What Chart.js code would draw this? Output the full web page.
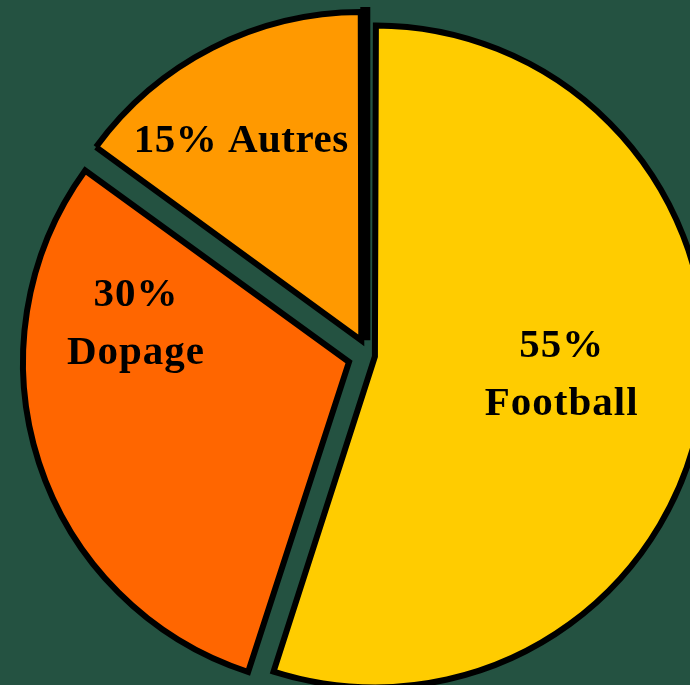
<!DOCTYPE html>
<html>
<head>
<meta charset="utf-8">
<script src="https://cdn.jsdelivr.net/npm/chart.js@4/dist/chart.umd.min.js"></script>
<style>
  html, body { margin: 0; padding: 0; background: #245241; overflow: hidden; }
  canvas { display: block; }
</style>
</head>
<body>
<canvas id="pieChart" width="690" height="685"></canvas>
<script>
const labels = ["Football", "Dopage", "Autres"];
const values = [55, 30, 15];
const total = values.reduce((a, b) => a + b, 0);

// thick black edge on the "Autres" slice, like the original drawing
const thickEdge = {
  id: "thickEdge",
  afterDatasetsDraw(chart) {
    const arc = chart.getDatasetMeta(0).data[2];
    const p = arc.getProps(["x", "y", "startAngle", "endAngle", "outerRadius", "circumference"], true);
    const mid = (p.startAngle + p.endAngle) / 2;
    const t = arc.options.offset / 4;
    const fix = 1 - Math.sin(Math.min(Math.PI, p.circumference));
    const vx = p.x + Math.cos(mid) * t;
    const vy = p.y + Math.sin(mid) * t;
    const len = p.outerRadius + t * fix + 5;
    const nx = Math.cos(p.endAngle + Math.PI / 2) * 4;
    const ny = Math.sin(p.endAngle + Math.PI / 2) * 4;
    const ctx = chart.ctx;
    ctx.save();
    ctx.strokeStyle = "#000";
    ctx.lineWidth = 10;
    ctx.beginPath();
    ctx.moveTo(vx + nx, vy + ny);
    ctx.lineTo(vx + nx + Math.cos(p.endAngle) * len, vy + ny + Math.sin(p.endAngle) * len);
    ctx.stroke();
    ctx.restore();
  }
};

const sliceLabels = {
  id: "sliceLabels",
  afterDatasetsDraw(chart, args, opts) {
    const ctx = chart.ctx;
    const arcs = chart.getDatasetMeta(0).data;
    ctx.save();
    ctx.fillStyle = "#000";
    ctx.font = "bold 41px 'Liberation Serif'";
    ctx.textAlign = "center";
    ctx.textBaseline = "alphabetic";
    arcs.forEach((arc, i) => {
      const p = arc.getProps(["x", "y", "startAngle", "endAngle", "outerRadius"], true);
      const a = (p.startAngle + p.endAngle) / 2 + opts.turn[i] * Math.PI / 180;
      const r = p.outerRadius * opts.reach[i];
      const cx = p.x + Math.cos(a) * r;
      const cy = p.y + Math.sin(a) * r;
      const pct = Math.round(values[i] / total * 100) + "%";
      const lines = opts.stack[i] ? [pct, labels[i]] : [pct + " " + labels[i]];
      ctx.letterSpacing = opts.stack[i] ? "1px" : "0.5px";
      lines.forEach((txt, j) => {
        ctx.fillText(txt, cx, cy + (j - (lines.length - 1) / 2) * 58 + 14);
      });
    });
    ctx.restore();
  }
};

new Chart(document.getElementById("pieChart"), {
  type: "pie",
  data: {
    labels: labels,
    datasets: [{
      data: values,
      backgroundColor: ["#FFCC00", "#FF6600", "#FF9900"],
      borderColor: "#000",
      borderWidth: 6,
      borderJoinStyle: "miter",
      offset: [24, 84, 68],
      clip: false
    }]
  },
  options: {
    responsive: false,
    animation: false,
    events: [],
    radius: 325,
    layout: { padding: { left: 48, top: 26, right: 0, bottom: 0 } },
    plugins: {
      legend: { display: false },
      tooltip: { enabled: false },
      sliceLabels: {
        turn: [-4, 26.5, -3.5],
        reach: [0.595, 0.725, 0.775],
        stack: [true, true, false]
      }
    }
  },
  plugins: [thickEdge, sliceLabels]
});
</script>
</body>
</html>
